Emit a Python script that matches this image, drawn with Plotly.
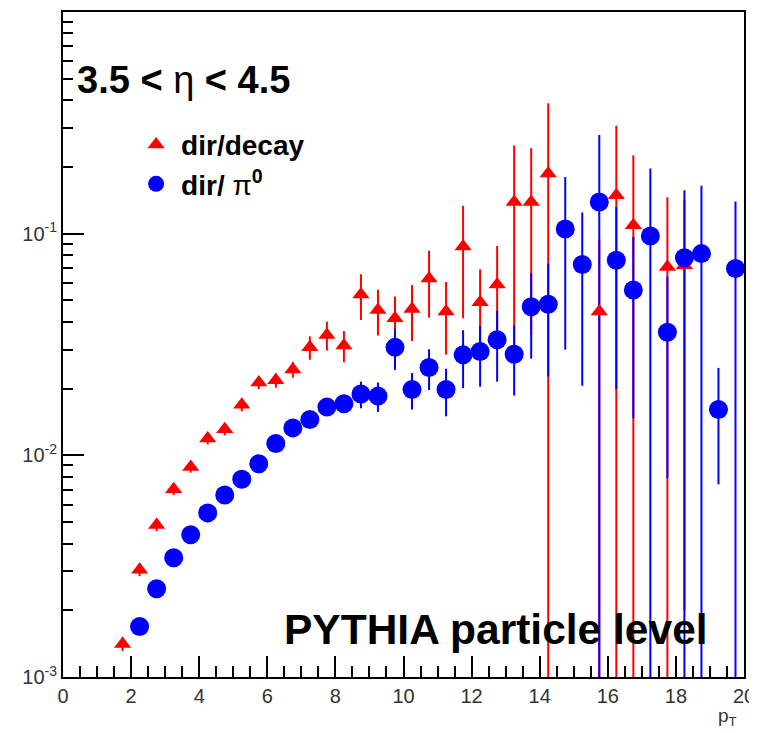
import plotly.graph_objects as go

# bin centres (pT)
pt = [1.75, 2.25, 2.75, 3.25, 3.75, 4.25, 4.75, 5.25, 5.75, 6.25, 6.75, 7.25,
      7.75, 8.25, 8.75, 9.25, 9.75, 10.25, 10.75, 11.25, 11.75, 12.25, 12.75,
      13.25, 13.75, 14.25, 14.75, 15.25, 15.75, 16.25, 16.75, 17.25, 17.75,
      18.25, 18.75, 19.25, 19.75]

# dir/decay
decay_val = [1.41e-3, 3.05e-3, 4.85e-3, 7.03e-3, 8.85e-3, 1.19e-2, 1.31e-2, 1.69e-2,
             2.13e-2, 2.18e-2, 2.44e-2, 3.07e-2, 3.49e-2, 3.13e-2, 5.32e-2, 4.53e-2,
             4.15e-2, 4.57e-2, 6.28e-2, 4.45e-2, 8.75e-2, 4.90e-2, 5.90e-2, 0.139,
             0.139, 0.187, None, None, 4.45e-2, 0.149, 0.109, None, 7.08e-2, 7.2e-2,
             None, None, None]
decay_err = [0.0001, 0.0002, 0.0003, 0.0004, 0.0005, 0.0007, 0.0008, 0.0011,
             0.0014, 0.0016, 0.0020, 0.0037, 0.0052, 0.0050, 0.0124, 0.0106,
             0.0105, 0.0129, 0.021, 0.016, 0.046, 0.020, 0.029, 0.111,
             0.104, 0.201, None, None, 0.05, 0.158, 0.117, None, 0.075, 0.07,
             None, None, None]

# dir/pi0
pi0_val = [None, 1.69e-3, 2.50e-3, 3.45e-3, 4.38e-3, 5.50e-3, 6.62e-3, 7.80e-3,
           9.16e-3, 1.13e-2, 1.33e-2, 1.45e-2, 1.65e-2, 1.71e-2, 1.89e-2, 1.85e-2,
           3.07e-2, 1.98e-2, 2.49e-2, 1.98e-2, 2.84e-2, 2.94e-2, 3.32e-2, 2.86e-2,
           4.68e-2, 4.80e-2, 0.105, 7.26e-2, 0.139, 7.59e-2, 5.57e-2, 9.77e-2,
           3.59e-2, 7.78e-2, 8.13e-2, 1.61e-2, 6.96e-2]
pi0_err = [None, 0.00005, 0.00007, 0.0001, 0.00013, 0.00017, 0.0002, 0.00025,
           0.0003, 0.0004, 0.0005, 0.0006, 0.0009, 0.0012, 0.0026, 0.0028,
           0.0064, 0.0037, 0.0052, 0.0048, 0.0083, 0.0090, 0.0117, 0.0100,
           0.0195, 0.0253, 0.075, 0.052, 0.14, 0.056, 0.041, 0.099,
           0.028, 0.079, 0.083, 0.0087, 0.070]

x_ticks = [0, 2, 4, 6, 8, 10, 12, 14, 16, 18, 20]
y_ticks = [1e-3, 1e-2, 1e-1]
y_ticktext = ["10<sup>-3</sup>", "10<sup>-2</sup>", "10<sup>-1</sup>"]
y_minor = [m * 10.0 ** e for e in (-3, -2, -1) for m in range(2, 10)]

RED = "#ff0000"
BLUE = "#0000ff"
FONT = "Liberation Sans"

fig = go.Figure()

# error bars (red first, blue over it)
fig.add_trace(go.Scatter(
    x=pt, y=decay_val, mode="markers", showlegend=False, hoverinfo="skip",
    marker=dict(color="rgba(0,0,0,0)", size=1),
    error_y=dict(type="data", array=decay_err, symmetric=True, color=RED,
                 thickness=2, width=0)))
fig.add_trace(go.Scatter(
    x=pt, y=pi0_val, mode="markers", showlegend=False, hoverinfo="skip",
    marker=dict(color="rgba(0,0,0,0)", size=1),
    error_y=dict(type="data", array=pi0_err, symmetric=True, color=BLUE,
                 thickness=2, width=0)))
# markers
fig.add_trace(go.Scatter(
    x=pt, y=decay_val, mode="markers", name="<b>dir/decay</b>",
    marker=dict(symbol="triangle-up", color=RED, size=15, line=dict(width=0))))
fig.add_trace(go.Scatter(
    x=pt, y=pi0_val, mode="markers", name="<b>dir/</b> π<sup><b>0</b></sup>",
    marker=dict(symbol="circle", color=BLUE, size=19, line=dict(width=0))))

# the page body has an 8px margin: compensate so the frame lands where the reference has it
fig.update_layout(
    width=749, height=725,
    margin=dict(l=55, r=12, t=2, b=56),
    paper_bgcolor="white", plot_bgcolor="white",
    font=dict(family=FONT, color="#333333"),
    showlegend=True,
    legend=dict(x=0.10, y=0.838, xanchor="left", yanchor="top",
                bgcolor="rgba(0,0,0,0)", borderwidth=0,
                font=dict(family=FONT, size=28, color="black"),
                itemwidth=40, tracegroupgap=0),
    xaxis=dict(range=[0, 20], tickvals=x_ticks, ticks="inside", ticklen=21,
               tickwidth=1.5, tickcolor="black", showgrid=False, zeroline=False,
               showline=True, linecolor="black", linewidth=2, mirror=True,
               tickfont=dict(family=FONT, size=20, color="#333333"),
               minor=dict(dtick=0.5, ticks="inside", ticklen=11, tickwidth=1.5,
                          tickcolor="black", showgrid=False)),
    yaxis=dict(type="log", range=[-3, 0], tickvals=y_ticks, ticktext=y_ticktext,
               ticks="inside", ticklen=21, tickwidth=1.5, tickcolor="black",
               showgrid=False, zeroline=False, showline=True, linecolor="black",
               linewidth=2, mirror=True,
               tickfont=dict(family=FONT, size=20, color="#333333"),
               minor=dict(tickvals=y_minor, ticks="inside", ticklen=10,
                          tickwidth=1.5, tickcolor="black", showgrid=False)),
)

fig.add_annotation(
    xref="paper", yref="paper", x=0.018, y=0.898, xanchor="left", yanchor="middle",
    text="<b>3.5 &lt;</b> η <b>&lt; 4.5</b>", showarrow=False,
    font=dict(family=FONT, size=38, color="black"))
fig.add_annotation(
    xref="paper", yref="paper", x=0.322, y=0.071, xanchor="left", yanchor="middle",
    text="<b>PYTHIA particle level</b>", showarrow=False,
    font=dict(family=FONT, size=42.5, color="black"))
fig.add_annotation(
    xref="paper", yref="paper", x=0.992, y=-0.06, xanchor="right", yanchor="middle",
    text="p<sub>T</sub>", showarrow=False,
    font=dict(family=FONT, size=19, color="#333333"))

fig.write_html("out.html")
